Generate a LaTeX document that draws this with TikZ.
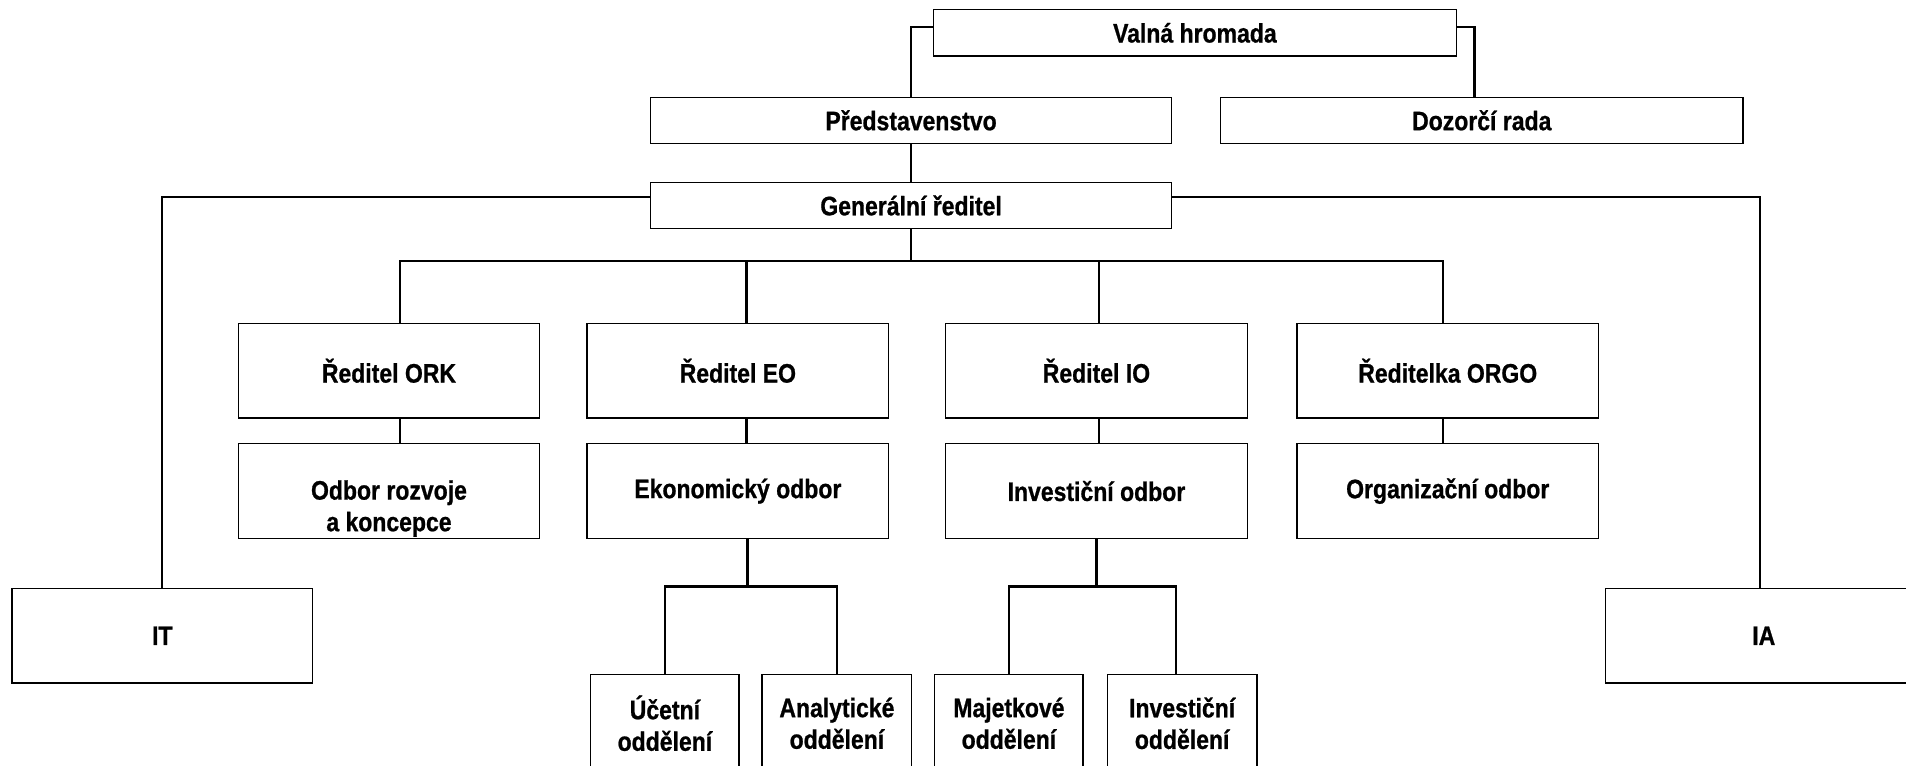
\documentclass[tikz,border=0pt]{standalone}
\usepackage{fontspec}
\newfontfamily\orgfont[FakeStretch=0.86,BoldFeatures={FakeBold=0.8}]{Liberation Sans}
\usetikzlibrary{positioning}

\begin{document}
\begin{tikzpicture}[x=1pt,y=-1pt,
  box/.style={draw, line width=1.1pt, inner sep=0pt, align=center,
    font=\fontsize{22}{26}\selectfont\orgfont\bfseries},
  link/.style={line width=2pt}]
\pgfmathsetmacro{\sirka}{248}
\pgfmathsetmacro{\vyska}{78}
\clip (0,0) rectangle (1568,630);
\node[box, minimum width=430, minimum height=38] (vh) at (983,27) {Valná hromada};
\node[box, minimum width=429, minimum height=38] (pr) at (749.5,99) {Představenstvo};
\node[box, minimum width=430, minimum height=38] (dr) at (1219,99) {Dozorčí rada};
\node[box, minimum width=429, minimum height=38] (gr) at (749.5,169) {Generální ředitel};
\node[box, minimum width=\sirka, minimum height=\vyska] (ork) at (320,305) {Ředitel ORK};
\node[box, minimum width=\sirka, minimum height=\vyska] (eo) at (607,305) {Ředitel EO};
\node[box, minimum width=\sirka, minimum height=\vyska] (io) at (902,305) {Ředitel IO};
\node[box, minimum width=\sirka, minimum height=\vyska] (orgo) at (1191,305) {Ředitelka ORGO};
\node[box, minimum width=\sirka, minimum height=\vyska] (orkodb) at (320,404)
  {\raisebox{-20pt}[0pt][0pt]{\begin{tabular}{@{}c@{}}Odbor rozvoje\\a koncepce\end{tabular}}};
\node[box, minimum width=\sirka, minimum height=\vyska] (eoodb) at (607,404) {Ekonomický odbor};
\node[box, minimum width=\sirka, minimum height=\vyska] (ioodb) at (902,404) {Investiční odbor};
\node[box, minimum width=\sirka, minimum height=\vyska] (orgoodb) at (1191,404) {Organizační odbor};
\node[box, minimum width=247, minimum height=\vyska] (it) at (133.5,523) {IT};
\node[box, minimum width=260, minimum height=\vyska] (ia) at (1451,523) {IA};
\node[box, minimum width=122, minimum height=80] (uc) at (547,595) {Účetní\\oddělení};
\node[box, minimum width=123, minimum height=80] (an) at (688.5,595) {Analytické\\oddělení};
\node[box, minimum width=122, minimum height=80] (ma) at (830,595) {Majetkové\\oddělení};
\node[box, minimum width=123, minimum height=80] (iv) at (972.5,595) {Investiční\\oddělení};

\draw[link] ([yshift=5pt]vh.west) -| (pr.north);
\draw[link] ([yshift=5pt]vh.east) -| ([xshift=-6pt]dr.north);
\draw[link] (pr.south) -- (gr.north);
\draw[link] ([yshift=7pt]gr.west) -| (it.north);
\draw[link] ([yshift=7pt]gr.east) -| ([xshift=-3pt]ia.north);
\draw[link] (gr.south) -- ++(0,26) coordinate (bus);
\draw[link] ([xshift=9pt]ork.north) |- (bus);
\draw[link] ([xshift=-4pt]orgo.north) |- (bus);
\draw[link] ([xshift=7pt]eo.north) -- ([xshift=7pt]eo.north |- bus);
\draw[link] ([xshift=2pt]io.north) -- ([xshift=2pt]io.north |- bus);
\foreach \a/\b/\d in {ork/orkodb/9, eo/eoodb/7, io/ioodb/2, orgo/orgoodb/-4}
  \draw[link] ([xshift=\d pt]\a.south) -- ([xshift=\d pt]\b.north);
\draw[link] ([xshift=8pt]eoodb.south) -- ++(0,39) coordinate (eobus);
\draw[link] (uc.north) |- (eobus) -| (an.north);
\draw[link] (ioodb.south) -- ++(0,39) coordinate (iobus);
\draw[link] (ma.north) |- (iobus) -| ([xshift=-5pt]iv.north);
\end{tikzpicture}
\end{document}
